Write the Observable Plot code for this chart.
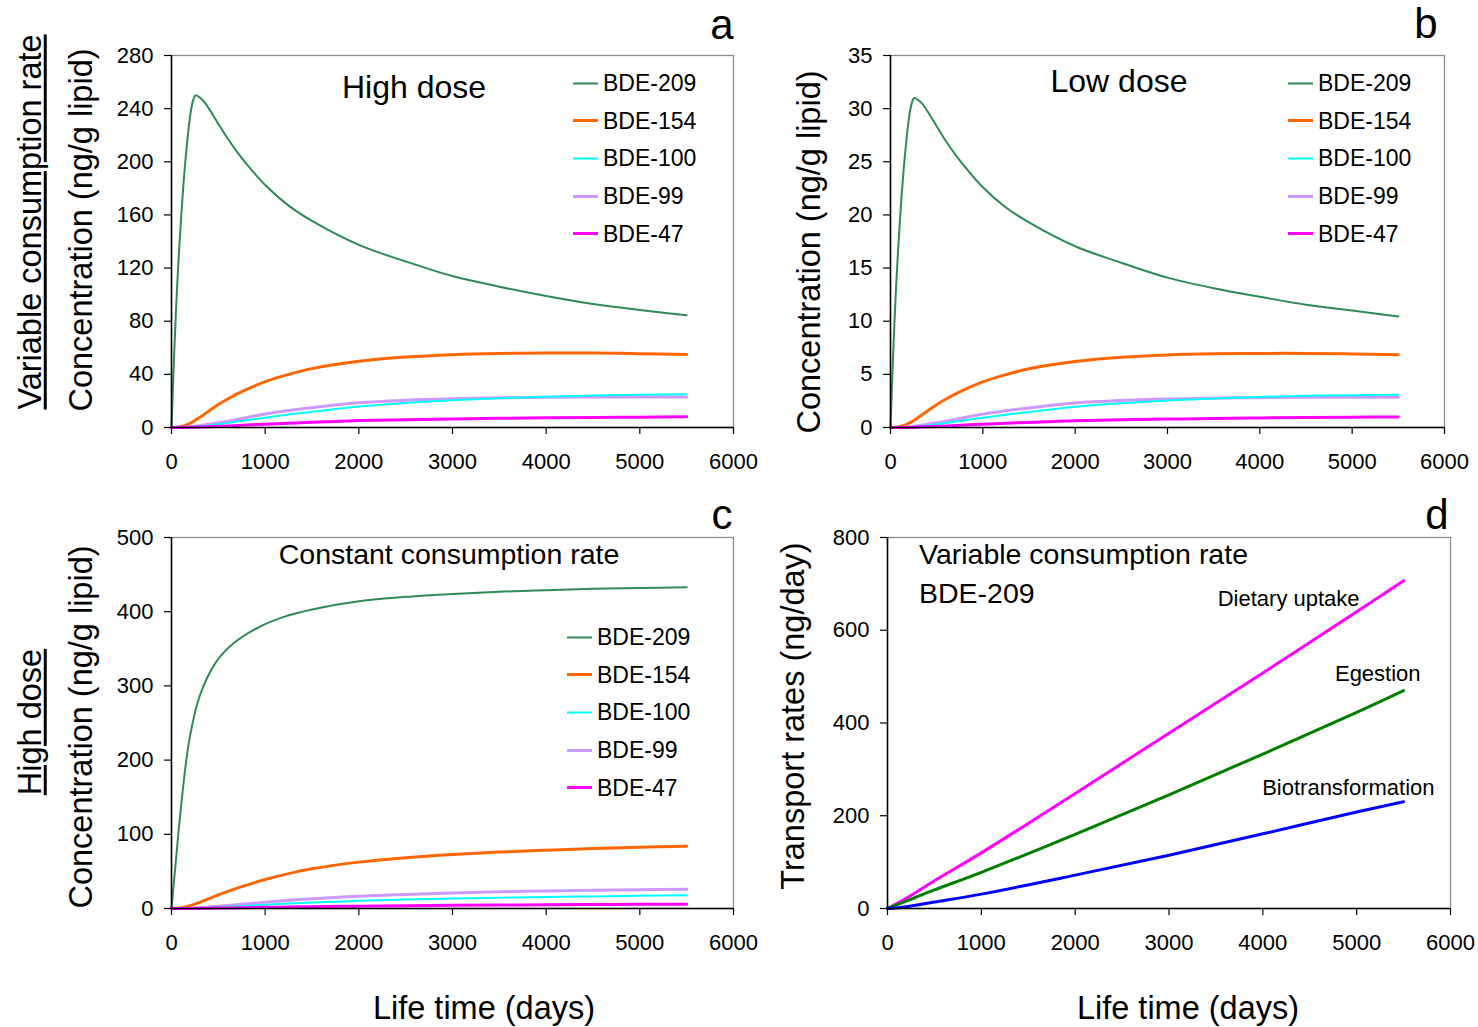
<!DOCTYPE html>
<html><head><meta charset="utf-8">
<script src="https://cdn.jsdelivr.net/npm/d3@7"></script>
<script src="https://cdn.jsdelivr.net/npm/@observablehq/plot@0.6"></script>
<style>
body{margin:0;background:#fff;}
#root{position:relative;width:1478px;height:1027px;font-family:"Liberation Sans",Arial,sans-serif;color:#000;overflow:hidden;}
.abs{position:absolute;white-space:nowrap;line-height:1;}
.rot{transform:translate(-50%,-50%) rotate(-90deg);}
.ctr{transform:translate(-50%,-50%);}
.lg{transform:translateY(-50%);display:flex;align-items:center;}
</style></head>
<body><div id="root"></div>
<script>
// ---------- data ----------
const seriesNames = ["BDE-209","BDE-154","BDE-100","BDE-99","BDE-47"];
const seriesColors = ["#2e8b57","#ff6600","#00ffff","#cc99ff","#ff00ff"];
const seriesWidths = [2,3,2,3,3];

// BDE-209, variable consumption rate (panels a, b)
const tPeak = [0,30,60,100,150,200,230,256,300,350,400,500,600,700,800,1000,1250,1500,2000,2500,3000,3500,4000,4500,5000,5500];
const a209 = [0,58,106,155,202,235,246,250,248.5,245,240,228.5,217.5,207.5,198.5,182.5,167,155.5,137.5,125,114,106,99,93,88.5,84.5];
const b209 = [0,7.2,13.1,19.2,25,29.1,30.5,31,30.8,30.4,29.75,28.35,26.95,25.7,24.6,22.6,20.7,19.3,17.05,15.5,14.1,13.1,12.3,11.55,11.0,10.45];

// other congeners time grid
const tSlow = [0,100,200,300,400,500,600,750,1000,1250,1500,2000,2500,3000,3500,4000,4500,5000,5500];
const a154 = [0,0.6,3.2,7.5,12.5,17.3,21.5,27,34.5,40,44.3,49.8,53,54.8,55.7,56,56,55.6,55];
const a100 = [0,0,0.3,0.8,1.5,2.4,3.4,5,7.4,9.8,11.8,15.8,18.5,20.5,22,23.2,24,24.6,25];
const a99  = [0,0.1,0.6,1.4,2.5,3.6,4.8,6.8,10.2,12.8,14.9,18.6,20.5,21.6,22.3,22.7,22.9,23,23];
const a47  = [0,0,0.1,0.3,0.6,0.9,1.2,1.7,2.5,3.2,3.9,5.2,5.9,6.4,6.9,7.3,7.6,7.8,8];

const b154 = [0,0.07,0.4,0.93,1.56,2.15,2.68,3.36,4.3,4.98,5.52,6.2,6.6,6.82,6.93,6.97,6.97,6.92,6.85];
const b100 = [0,0,0.04,0.1,0.19,0.3,0.42,0.62,0.92,1.21,1.46,1.96,2.29,2.54,2.73,2.88,2.98,3.04,3.08];
const b99  = [0,0.01,0.07,0.17,0.31,0.45,0.6,0.85,1.26,1.58,1.84,2.3,2.54,2.68,2.76,2.81,2.84,2.85,2.85];
const b47  = [0,0,0.01,0.04,0.07,0.11,0.15,0.21,0.31,0.4,0.48,0.64,0.73,0.79,0.85,0.9,0.94,0.97,0.99];

// constant consumption rate (panel c)
const tConst = [0,45,80,115,150,200,300,470,650,930,1200,1500,2000,2500,3000,3500,4000,4500,5000,5500];
const c209 = [0,62,110,153,192,234,286,331,356,379,393,403,414,420,424,427,429,431,432,433];
const c154 = [0,0.8,3.8,8.3,13.3,18.3,23,29.5,39,47,53.5,62.5,68.5,72.8,76,78.6,80.7,82.5,84];
const c100 = [0,0,0.2,0.5,1,1.6,2.2,3.2,5,6.6,8,10.3,12,13.5,14.6,15.5,16.3,17.1,17.8];
const c99  = [0,0.1,0.5,1.1,2,3,4,5.6,8.5,11,13,16.5,19,21,22.5,23.6,24.5,25.3,26];
const c47  = [0,0,0.1,0.2,0.4,0.6,0.8,1.1,1.6,2.1,2.5,3.2,3.8,4.3,4.7,5,5.3,5.6,5.8];

// transport rates (panel d)
const tRate = [0,200,500,1000,2000,3000,4000,5000,5500];
const rateNames = ["Dietary uptake","Egestion","Biotransformation"];
const rateColors = ["#ff00ff","#008000","#0000ff"];
const dietary = [0,22,60,120,248,378,508,640,707];
const egestion = [0,16,40,78,160,245,333,423,470];
const biotrans = [0,4,14,31,72,115,161,208,230];

const xTicks = [0,1000,2000,3000,4000,5000,6000];
const yTicksA = [0,40,80,120,160,200,240,280];
const yTicksB = [0,5,10,15,20,25,30,35];
const yTicksC = [0,100,200,300,400,500];
const yTicksD = [0,200,400,600,800];

// ---------- helpers ----------
const root = document.getElementById("root");
const rows = (ts, vs) => ts.map((t,i)=>({t, v: vs[i]}));
const ML=60, MR=20, MT=10, MB=50;

function panel(o){
  const marks = [
    Plot.frame({stroke:"#8c8c8c", strokeWidth:1.3}),
    ...o.lines,
    ...(o.extra||[]),
    Plot.ruleX([0],{stroke:"#000",strokeWidth:1.5}),
    Plot.ruleY([0],{stroke:"#000",strokeWidth:1.5}),
    Plot.axisX({ticks:xTicks, tickSize:7, tickPadding:19, tickFormat:d3.format("d"), label:null, fontSize:22, strokeWidth:1.2}),
    Plot.axisY({ticks:o.yTicks, tickSize:7, tickPadding:11, tickFormat:d3.format("d"), label:null, fontSize:22, strokeWidth:1.2})
  ];
  const ch = Plot.plot({
    width: o.fw+ML+MR, height: o.fh+MT+MB,
    marginLeft:ML, marginRight:MR, marginTop:MT, marginBottom:MB,
    x:{domain:[0,6000]}, y:{domain:o.yDomain},
    style:{fontFamily:'"Liberation Sans",Arial,sans-serif', color:"#000", background:"transparent", overflow:"visible"},
    marks
  });
  ch.style.position="absolute";
  ch.style.left=(o.fx-ML)+"px";
  ch.style.top=(o.fy-MT)+"px";
  root.appendChild(ch);
}
function concLines(t209, v209, tS, v154, v100, v99, v47){
  const sets = [[t209,v209,0],[tS,v154,1],[tS,v99,3],[tS,v100,2],[tS,v47,4]];
  return sets.map(s=>Plot.line(rows(s[0],s[1]),{x:"t",y:"v",stroke:seriesColors[s[2]],strokeWidth:seriesWidths[s[2]],curve:"catmull-rom"}));
}
function text(str, x, y, size, cls, extra){
  const d=document.createElement("div");
  d.className="abs "+(cls||"");
  d.style.left=x+"px"; d.style.top=y+"px"; d.style.fontSize=size+"px";
  if(extra) Object.assign(d.style, extra);
  d.textContent=str; root.appendChild(d); return d;
}
function legend(x, y0, step){
  seriesNames.forEach((n,i)=>{
    const d=document.createElement("div");
    d.className="abs lg";
    d.style.left=x+"px"; d.style.top=(y0+i*step)+"px"; d.style.fontSize="23px";
    d.innerHTML=`<svg width="25" height="10" style="margin-right:5px"><line x1="0" x2="25" y1="5" y2="5" stroke="${seriesColors[i]}" stroke-width="${seriesWidths[i]}"/></svg><span>${n}</span>`;
    root.appendChild(d);
  });
}

// ---------- panels ----------
panel({fx:171, fy:55, fw:562, fh:372, yDomain:[0,280], yTicks:yTicksA,
  lines: concLines(tPeak,a209,tSlow,a154,a100,a99,a47)});
panel({fx:890, fy:55, fw:554, fh:372, yDomain:[0,35], yTicks:yTicksB,
  lines: concLines(tPeak,b209,tSlow,b154,b100,b99,b47)});
panel({fx:171, fy:537, fw:562, fh:371, yDomain:[0,500], yTicks:yTicksC,
  lines: concLines(tConst,c209,tSlow,c154,c100,c99,c47)});

const rateSets=[dietary,egestion,biotrans];
const rateOffsets=[[-44,18],[17,-17],[31,-14]];
panel({fx:887, fy:537, fw:563, fh:371, yDomain:[0,800], yTicks:yTicksD,
  lines: rateSets.map((v,i)=>Plot.line(rows(tRate,v),{x:"t",y:"v",stroke:rateColors[i],strokeWidth:3,curve:"catmull-rom"})),
  extra: rateSets.map((v,i)=>Plot.text([{t:tRate[tRate.length-1], v:v[v.length-1], n:rateNames[i]}],
    {x:"t",y:"v",text:"n",textAnchor:"end",dx:rateOffsets[i][0],dy:rateOffsets[i][1],fontSize:22,fill:"#000"}))
});

// ---------- annotations ----------
text("High dose", 414, 87, 32, "ctr");
text("Low dose", 1119, 81, 32, "ctr");
text("Constant consumption rate", 449, 554, 28.5, "ctr");
text("Variable consumption rate", 919, 554, 28.5, "", {transform:"translateY(-50%)"});
text("BDE-209", 919, 593, 28.5, "", {transform:"translateY(-50%)"});
legend(573, 83, 37.7);
legend(1288, 83, 37.7);
legend(567, 637, 37.7);

text("a", 722, 25, 42, "ctr");
text("b", 1426, 24, 42, "ctr");
text("c", 722, 515, 42, "ctr");
text("d", 1437, 515, 42, "ctr");

text("Concentration (ng/g lipid)", 81, 230, 32.5, "rot");
text("Variable consumption rate", 30, 222, 32.5, "rot", {textDecoration:"underline", textUnderlineOffset:"3px", textDecorationThickness:"3px"});
text("Concentration (ng/g lipid)", 809, 252, 32.5, "rot");
text("Concentration (ng/g lipid)", 81, 727, 32.5, "rot");
text("High dose", 30, 722, 32.5, "rot", {textDecoration:"underline", textUnderlineOffset:"3px", textDecorationThickness:"3px"});
text("Transport rates (ng/day)", 793, 716, 32.5, "rot");
text("Life time (days)", 484, 1008, 32.5, "ctr");
text("Life time (days)", 1188, 1008, 32.5, "ctr");
</script></body></html>
